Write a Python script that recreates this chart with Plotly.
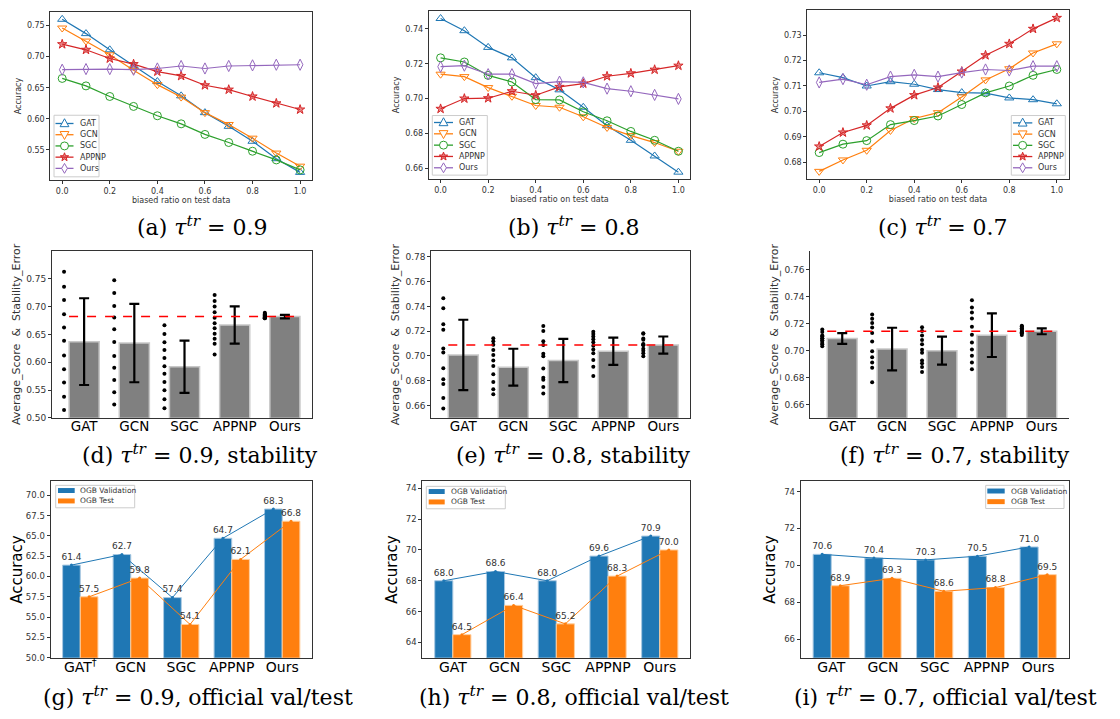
import numpy as np
import plotly.graph_objects as go

W, H = 1120, 719

# ---------------- data ----------------
ratios = [0.0, 0.1, 0.2, 0.3, 0.4, 0.5, 0.6, 0.7, 0.8, 0.9, 1.0]
models = ["GAT", "GCN", "SGC", "APPNP", "Ours"]

# (a) tau=0.9
a_gat = [0.760, 0.737, 0.711, 0.685, 0.660, 0.637, 0.610, 0.588, 0.564, 0.536, 0.514]
a_gcn = [0.746, 0.725, 0.703, 0.678, 0.655, 0.635, 0.610, 0.591, 0.569, 0.545, 0.524]
a_sgc = [0.665, 0.653, 0.636, 0.620, 0.605, 0.592, 0.575, 0.562, 0.548, 0.534, 0.518]
a_appnp = [0.720, 0.711, 0.697, 0.688, 0.676, 0.669, 0.654, 0.647, 0.636, 0.625, 0.615]
a_ours = [0.679, 0.680, 0.680, 0.679, 0.681, 0.685, 0.681, 0.685, 0.686, 0.687, 0.687]

# (b) tau=0.8
b_gat = [0.746, 0.739, 0.7294, 0.7234, 0.712, 0.705, 0.695, 0.6844, 0.676, 0.667, 0.6577]
b_gcn = [0.714, 0.7126, 0.7063, 0.7013, 0.696, 0.695, 0.6895, 0.6834, 0.6787, 0.6747, 0.6697]
b_sgc = [0.7234, 0.721, 0.7133, 0.7095, 0.6994, 0.6992, 0.6924, 0.6872, 0.6811, 0.676, 0.6697]
b_appnp = [0.6941, 0.700, 0.7002, 0.7042, 0.7019, 0.7067, 0.7086, 0.7128, 0.7145, 0.7166, 0.7189]
b_ours = [0.7183, 0.7189, 0.714, 0.714, 0.7086, 0.7097, 0.7093, 0.7057, 0.7042, 0.7021, 0.6998]

# (c) tau=0.7
c_gat = [0.7152, 0.7133, 0.7100, 0.7117, 0.7107, 0.7086, 0.7074, 0.7072, 0.7053, 0.7046, 0.7030]
c_gcn = [0.6764, 0.6809, 0.6847, 0.6925, 0.6972, 0.6995, 0.7057, 0.7124, 0.7168, 0.7230, 0.7266]
c_sgc = [0.6838, 0.6871, 0.6885, 0.6948, 0.6964, 0.6982, 0.7027, 0.7073, 0.7100, 0.7142, 0.7165]
c_appnp = [0.6862, 0.6917, 0.6945, 0.7012, 0.7064, 0.7094, 0.7157, 0.7221, 0.7266, 0.7325, 0.7368]
c_ours = [0.7114, 0.7127, 0.7105, 0.7137, 0.7144, 0.7137, 0.7153, 0.7165, 0.7161, 0.7178, 0.7178]

# (d) stability tau=0.9 : per-run scores, mean bars, error bars
d_gat_runs = [0.7625, 0.7357, 0.7119, 0.6863, 0.6625, 0.6387, 0.6119, 0.5875, 0.5637, 0.5381, 0.5143]
d_gcn_runs = [0.7476, 0.7244, 0.7012, 0.6804, 0.6595, 0.6363, 0.6113, 0.5899, 0.5679, 0.5458, 0.5238]
d_sgc_runs = [0.6667, 0.6506, 0.6357, 0.6220, 0.6077, 0.5929, 0.5792, 0.5643, 0.5494, 0.5333, 0.5173]
d_appnp_runs = [0.721, 0.710, 0.700, 0.690, 0.680, 0.670, 0.661, 0.651, 0.642, 0.633, 0.614]
d_ours_runs = [0.689, 0.687, 0.686, 0.685, 0.684, 0.683, 0.682, 0.681, 0.680, 0.679, 0.679]
d_means = [0.637, 0.6345, 0.5917, 0.667, 0.682]
d_errs = [0.078, 0.0705, 0.047, 0.0335, 0.003]

# (e) stability tau=0.8
e_gat_runs = [0.7466, 0.7386, 0.7255, 0.7212, 0.7059, 0.7027, 0.6901, 0.6811, 0.6773, 0.6661, 0.6575]
e_gcn_runs = [0.7142, 0.7118, 0.7091, 0.7048, 0.7008, 0.6963, 0.6918, 0.6851, 0.6789, 0.6730, 0.6690]
e_sgc_runs = [0.7241, 0.7201, 0.7118, 0.7089, 0.7017, 0.6998, 0.6899, 0.6824, 0.6808, 0.6749, 0.6696]
e_appnp_runs = [0.7196, 0.7177, 0.7156, 0.7134, 0.7110, 0.7083, 0.7051, 0.7022, 0.6968, 0.6912, 0.6837]
e_ours_runs = [0.7183, 0.7179, 0.7140, 0.7130, 0.7086, 0.7097, 0.7093, 0.7057, 0.7042, 0.7021, 0.6998]
e_means = [0.7008, 0.6909, 0.6963, 0.7037, 0.7088]
e_errs = [0.0284, 0.0149, 0.0175, 0.011, 0.0069]

# (f) stability tau=0.7
f_gat_runs = [0.7155, 0.7137, 0.7110, 0.7105, 0.7090, 0.7088, 0.7075, 0.7070, 0.7055, 0.7045, 0.7030]
f_gcn_runs = [0.7267, 0.7235, 0.7203, 0.7169, 0.7129, 0.7066, 0.6993, 0.6950, 0.6911, 0.6872, 0.6764]
f_sgc_runs = [0.7171, 0.7144, 0.7110, 0.7078, 0.7046, 0.7004, 0.6982, 0.6926, 0.6904, 0.6877, 0.6840]
f_appnp_runs = [0.7372, 0.7318, 0.7281, 0.7237, 0.7176, 0.7117, 0.7058, 0.7007, 0.6960, 0.6911, 0.6860]
f_ours_runs = [0.7183, 0.7178, 0.7176, 0.7165, 0.7161, 0.7153, 0.7144, 0.7137, 0.7135, 0.7127, 0.7114]
f_means = [0.7088, 0.7010, 0.6998, 0.7113, 0.7142]
f_errs = [0.004, 0.0158, 0.0104, 0.0162, 0.0022]

# (g)-(i) official OGB val/test
g_labels = ["GAT<sup>†</sup>", "GCN", "SGC", "APPNP", "Ours"]
series_names = ["OGB Validation", "OGB Test"]
g_val = [61.4, 62.7, 57.4, 64.7, 68.3]
g_test = [57.5, 59.8, 54.1, 62.1, 66.8]
h_val = [68.0, 68.6, 68.0, 69.6, 70.9]
h_test = [64.5, 66.4, 65.2, 68.3, 70.0]
i_val = [70.6, 70.4, 70.3, 70.5, 71.0]
i_test = [68.9, 69.3, 68.6, 68.8, 69.5]

TAU = "<i>τ</i><sup><i>tr</i></sup>&nbsp;=&nbsp;"
captions = [
    "(a) " + TAU + "0.9",
    "(b) " + TAU + "0.8",
    "(c) " + TAU + "0.7",
    "(d) " + TAU + "0.9, stability",
    "(e) " + TAU + "0.8, stability",
    "(f) " + TAU + "0.7, stability",
    "(g) " + TAU + "0.9, official val/test",
    "(h) " + TAU + "0.8, official val/test",
    "(i) " + TAU + "0.7, official val/test",
]

# ---------------- style ----------------
COLORS = ["#1f77b4", "#ff7f0e", "#2ca02c", "#d62728", "#9467bd"]
SYMBOLS = ["triangle-up-open", "triangle-down-open", "circle-open", "star", "diamond-tall-open"]
LEG_SHAPES = ["tri_up", "tri_down", "circle", "star", "diamond"]
FONT = "DejaVu Sans"
AXC = "#333333"

# axes boxes in pixels: left, top, right, bottom
boxes = [
    (42.3, 4.0, 304.0, 173.3), (420.7, 2.7, 682.3, 172.3), (799.3, 2.3, 1060.7, 172.7),
    (44.0, 244.7, 304.0, 412.7), (423.3, 245.0, 682.3, 412.7), (802.3, 245.0, 1060.7, 412.7),
    (42.5, 476.7, 304.0, 654.3), (414.3, 476.7, 682.3, 654.3), (792.7, 476.7, 1060.7, 654.3),
]

fig = go.Figure()
layout = dict(width=W, height=H, margin=dict(l=0, r=0, t=0, b=0), autosize=False,
              plot_bgcolor="white", paper_bgcolor="white", barmode="overlay", showlegend=False,
              font=dict(family=FONT, color=AXC), annotations=[], shapes=[])


def PX(x):
    return x / W


def PY(y):
    return 1 - y / H


def ax_names(k):
    s = "" if k == 0 else str(k + 1)
    return "x" + s, "y" + s, "xaxis" + s, "yaxis" + s


for k, (l, t, r, b) in enumerate(boxes):
    xn, yn, xa, ya = ax_names(k)
    layout[xa] = dict(domain=[l / W, r / W], anchor=yn, showline=True, linecolor=AXC,
                      linewidth=1, mirror=True, showgrid=False, zeroline=False,
                      ticks="outside", ticklen=3, tickcolor=AXC)
    layout[ya] = dict(domain=[1 - b / H, 1 - t / H], anchor=xn, showline=True, linecolor=AXC,
                      linewidth=1, mirror=True, showgrid=False, zeroline=False,
                      ticks="outside", ticklen=3, tickcolor=AXC)


# ---------- legend helpers (drawn in paper space) ----------
def add_rect(l, t, r, b, fill, line, lw=1):
    layout["shapes"].append(dict(type="rect", xref="paper", yref="paper", x0=PX(l), x1=PX(r),
                                 y0=PY(b), y1=PY(t), fillcolor=fill, line=dict(color=line, width=lw),
                                 layer="above"))


def poly_path(pts):
    return "M " + " L ".join(f"{PX(x):.5f},{PY(y):.5f}" for x, y in pts) + " Z"


def add_marker(kind, cx, cy, color, s=8):
    if kind == "circle":
        r = s / 2
        layout["shapes"].append(dict(type="circle", xref="paper", yref="paper",
                                     x0=PX(cx - r), x1=PX(cx + r), y0=PY(cy + r), y1=PY(cy - r),
                                     fillcolor="white", line=dict(color=color, width=1), layer="above"))
        return
    if kind == "tri_up":
        pts = [(cx, cy - s * 0.6), (cx + s * 0.55, cy + s * 0.4), (cx - s * 0.55, cy + s * 0.4)]
        fill = "white"
    elif kind == "tri_down":
        pts = [(cx, cy + s * 0.6), (cx + s * 0.55, cy - s * 0.4), (cx - s * 0.55, cy - s * 0.4)]
        fill = "white"
    elif kind == "diamond":
        pts = [(cx, cy - s * 0.62), (cx + s * 0.36, cy), (cx, cy + s * 0.62), (cx - s * 0.36, cy)]
        fill = "white"
    else:  # star
        pts = []
        for j in range(10):
            ang = -np.pi / 2 + j * np.pi / 5
            rr = s * 0.55 if j % 2 == 0 else s * 0.23
            pts.append((cx + rr * np.cos(ang), cy + rr * np.sin(ang)))
        fill = "rgba(214,39,40,0.55)"
    layout["shapes"].append(dict(type="path", xref="paper", yref="paper", path=poly_path(pts),
                                 fillcolor=fill, line=dict(color=color, width=1), layer="above"))


def add_text(txt, x, y, size, color=AXC):
    layout["annotations"].append(dict(text=txt, x=PX(x), y=PY(y), xref="paper", yref="paper",
                                      showarrow=False, xanchor="left", yanchor="middle",
                                      font=dict(family=FONT, size=size, color=color)))


def top_legend(box, rows, lx0, lx1, tx):
    add_rect(*box, fill="rgba(255,255,255,0.85)", line="#cccccc")
    for m, name in enumerate(models):
        y = rows[m]
        layout["shapes"].append(dict(type="line", xref="paper", yref="paper", x0=PX(lx0), x1=PX(lx1),
                                     y0=PY(y), y1=PY(y), line=dict(color=COLORS[m], width=1.3),
                                     layer="above"))
        add_marker(LEG_SHAPES[m], (lx0 + lx1) / 2, y, COLORS[m], s=8)
        add_text(name, tx, y, 8)


def bar_legend(box, rows, px0, px1, tx):
    add_rect(*box, fill="rgba(255,255,255,0.85)", line="#cccccc")
    for j, (name, col) in enumerate(zip(series_names, ["#1f77b4", "#ff7f0e"])):
        y = rows[j]
        add_rect(px0, y - 2.5, px1, y + 2.5, fill=col, line=col, lw=0)
        add_text(name, tx, y, 7.5)


# ---------- top row ----------
top_data = [
    [a_gat, a_gcn, a_sgc, a_appnp, a_ours],
    [b_gat, b_gcn, b_sgc, b_appnp, b_ours],
    [c_gat, c_gcn, c_sgc, c_appnp, c_ours],
]
top_yranges = [[0.5016, 0.7718], [0.6537, 0.7505], [0.6732, 0.7398]]
top_dticks = [(0.55, 0.05, ".2f"), (0.66, 0.02, ".2f"), (0.68, 0.01, ".2f")]
for p in range(3):
    xn, yn, xa, ya = ax_names(p)
    for m, name in enumerate(models):
        sym = SYMBOLS[m]
        if sym == "star":
            mk = dict(symbol=sym, size=7, color="rgba(214,39,40,0.55)", line=dict(width=1, color=COLORS[m]))
        else:
            mk = dict(symbol=sym, size=8, color=COLORS[m], line=dict(width=1, color=COLORS[m]))
        fig.add_trace(go.Scatter(x=ratios, y=top_data[p][m], mode="lines+markers", name=name,
                                 line=dict(color=COLORS[m], width=1.2), marker=mk,
                                 xaxis=xn, yaxis=yn))
    layout[xa].update(range=[-0.05, 1.05], tick0=0, dtick=0.2, tickformat=".1f",
                      tickfont=dict(size=8), title=dict(text="biased ratio on test data",
                                                        font=dict(size=8), standoff=1))
    t0, dt, fmt = top_dticks[p]
    layout[ya].update(range=top_yranges[p], tick0=t0, dtick=dt, tickformat=fmt,
                      tickfont=dict(size=8), title=dict(text="Accuracy", font=dict(size=8), standoff=4))

top_legend((46, 108, 91, 170), [116.3, 127.6, 138.9, 150.2, 161.5], 47.5, 65.5, 70)
top_legend((424.3, 108.3, 479.3, 168.3), [115.3, 126.7, 138.1, 149.5, 160.9], 426, 445, 449)
top_legend((1003.3, 108.3, 1057.3, 168.3), [115.7, 127.0, 138.3, 149.6, 160.9], 1005, 1024.3, 1028.3)

# ---------- middle row ----------
mid_runs = [
    [d_gat_runs, d_gcn_runs, d_sgc_runs, d_appnp_runs, d_ours_runs],
    [e_gat_runs, e_gcn_runs, e_sgc_runs, e_appnp_runs, e_ours_runs],
    [f_gat_runs, f_gcn_runs, f_sgc_runs, f_appnp_runs, f_ours_runs],
]
mid_means = [d_means, e_means, f_means]
mid_errs = [d_errs, e_errs, f_errs]
mid_yranges = [[0.5, 0.8], [0.65, 0.7845], [0.65, 0.7735]]
mid_ticks = [(0.50, 0.75, 0.05), (0.66, 0.78, 0.02), (0.66, 0.76, 0.02)]
BAR_W = 0.6
DOT_OFF = -0.4
idx = np.arange(len(models))
for p in range(3):
    k = 3 + p
    xn, yn, xa, ya = ax_names(k)
    fig.add_trace(go.Bar(x=idx, y=mid_means[p], width=BAR_W, xaxis=xn, yaxis=yn,
                         marker=dict(color="#808080", line=dict(color="#c8c8c8", width=1.5)),
                         error_y=dict(type="data", array=mid_errs[p], color="black", thickness=2.2, width=5)))
    for m in range(len(models)):
        runs = mid_runs[p][m]
        fig.add_trace(go.Scatter(x=[idx[m] + DOT_OFF] * len(runs), y=runs, mode="markers",
                                 marker=dict(color="black", size=4), xaxis=xn, yaxis=yn))
    ours_mean = mid_means[p][-1]
    fig.add_trace(go.Scatter(x=[idx[0] - BAR_W / 2, idx[-1] + BAR_W / 2], y=[ours_mean, ours_mean],
                             mode="lines", line=dict(color="red", width=1.5, dash="dash"),
                             xaxis=xn, yaxis=yn))
    lo, hi, st = mid_ticks[p]
    tv = np.round(np.arange(lo, hi + st / 2, st), 2)
    layout[xa].update(range=[-0.64, 4.54], tickvals=list(idx), ticktext=models,
                      tickfont=dict(size=13.5, color="black"), ticks="", ticklabelstandoff=-4)
    layout[ya].update(range=mid_yranges[p], tickvals=list(tv), tickformat=".2f",
                      tickfont=dict(size=9),
                      title=dict(text="Average_Score  &  Stability_Error", font=dict(size=11), standoff=3))
    if p == 2:
        layout[xa].update(mirror=False)
        layout[ya].update(mirror=False)

# ---------- bottom row ----------
bot_val = [g_val, h_val, i_val]
bot_test = [g_test, h_test, i_test]
bot_labels = [g_labels, models, models]
bot_yranges = [[50, 71.7], [63, 74.45], [65, 74.55]]
bot_ticks = [(50, 70, 2.5, ".1f"), (64, 74, 2, "d"), (66, 74, 2, "d")]
GW = 0.35
BLUE, ORANGE = "#1f77b4", "#ff7f0e"
for p in range(3):
    k = 6 + p
    xn, yn, xa, ya = ax_names(k)
    xv = idx - GW / 2
    xt = idx + GW / 2
    fig.add_trace(go.Bar(x=xv, y=bot_val[p], width=GW, name=series_names[0], xaxis=xn, yaxis=yn,
                         marker=dict(color=BLUE, line=dict(color="#a9c9e2", width=1))))
    fig.add_trace(go.Bar(x=xt, y=bot_test[p], width=GW, name=series_names[1], xaxis=xn, yaxis=yn,
                         marker=dict(color=ORANGE, line=dict(color="#ffcf9f", width=1))))
    fig.add_trace(go.Scatter(x=xv, y=bot_val[p], mode="lines+markers+text",
                             text=[f"{v:.1f}" for v in bot_val[p]], textposition="top center",
                             textfont=dict(size=9, color="#333"),
                             line=dict(color=BLUE, width=1), marker=dict(size=3, color=BLUE),
                             xaxis=xn, yaxis=yn, cliponaxis=False))
    fig.add_trace(go.Scatter(x=xt, y=bot_test[p], mode="lines+markers+text",
                             text=[f"{v:.1f}" for v in bot_test[p]], textposition="top center",
                             textfont=dict(size=9, color="#333"),
                             line=dict(color=ORANGE, width=1), marker=dict(size=3, color=ORANGE),
                             xaxis=xn, yaxis=yn, cliponaxis=False))
    lo, hi, st, fmt = bot_ticks[p]
    layout[xa].update(range=[-0.59, 4.59], tickvals=list(idx), ticktext=bot_labels[p],
                      tickfont=dict(size=14, color="black"), ticks="", ticklabelstandoff=-4)
    layout[ya].update(range=bot_yranges[p], tick0=lo, dtick=st, tickformat=fmt,
                      tickfont=dict(size=8.5),
                      title=dict(text="Accuracy", font=dict(size=15, color="black"), standoff=4))

bar_legend((47.7, 480.7, 126.7, 503.3), [485.9, 496.4], 50, 66.7, 70)
bar_legend((418.3, 481.7, 497.3, 504.3), [486.9, 497.4], 420.7, 436.7, 441)
bar_legend((977.7, 480.7, 1056.0, 504.0), [486.4, 497.1], 979.3, 996.7, 1000.7)

# ---------- captions ----------
cap_pos = [(194, 220), (565, 220), (935, 220), (192, 449), (565, 449), (947, 449),
           (190, 693), (566, 693), (937, 693)]
for txt, (cx, cy) in zip(captions, cap_pos):
    layout["annotations"].append(dict(text=txt, x=PX(cx), y=PY(cy), xref="paper", yref="paper",
                                      showarrow=False, xanchor="center", yanchor="middle",
                                      font=dict(family="DejaVu Serif", size=22, color="black")))

fig.update_layout(**layout)
fig.write_html("out.html")
